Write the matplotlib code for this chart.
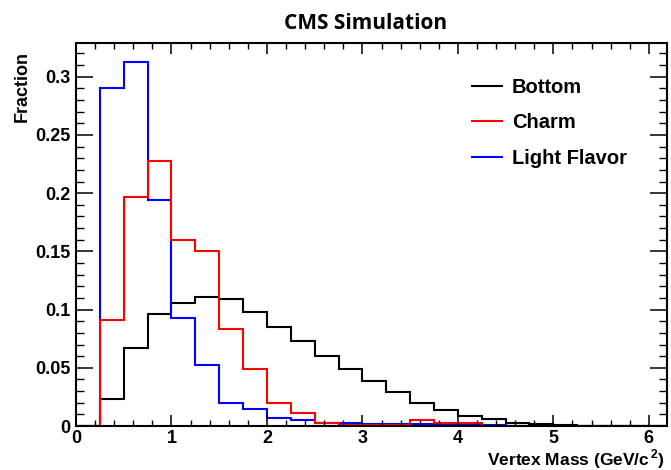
import numpy as np
import matplotlib
matplotlib.use("Agg")
import matplotlib.pyplot as plt
from matplotlib.lines import Line2D

# bin edges, 0.25 GeV wide
edges = np.arange(0, 6.26, 0.25)

bottom = [0.0, 0.023, 0.067, 0.096, 0.106, 0.111, 0.109, 0.098, 0.085, 0.073,
          0.060, 0.049, 0.039, 0.029, 0.020, 0.014, 0.009, 0.006, 0.003, 0.0017,
          0.0009, 0.0004, 0.0003, 0.0002, 0.0002]
charm = [0.0, 0.091, 0.197, 0.228, 0.160, 0.150, 0.083, 0.049, 0.020, 0.011,
         0.003, 0.0008, 0.0008, 0.0008, 0.005, 0.003, 0.003, 0.0004, 0.0003, 0.0002,
         0.0002, 0.0001, 0.0001, 0.0001, 0.0001]
light = [0.0, 0.290, 0.313, 0.194, 0.093, 0.052, 0.020, 0.015, 0.007, 0.0055,
         0.0025, 0.0022, 0.0019, 0.0016, 0.0014, 0.0012, 0.0010, 0.0006, 0.0004, 0.0003,
         0.0002, 0.0001, 0.0001, 0.0001, 0.0001]
labels = ['Bottom', 'Charm', 'Light Flavor']
colors = ['black', '#ff0000', '#0000ff']

plt.rcParams['font.family'] = ['Liberation Sans', 'DejaVu Sans']
plt.rcParams['font.weight'] = 'bold'
plt.rcParams['mathtext.fontset'] = 'custom'
plt.rcParams['mathtext.rm'] = 'Liberation Sans:bold'
plt.rcParams['mathtext.bf'] = 'Liberation Sans:bold'

fig = plt.figure(figsize=(6.71, 4.70), dpi=100)
ax = fig.add_axes([0.1133, 0.0936, 0.8807, 0.8149])

ax.stairs(bottom, edges, color='black', lw=1.5)
ax.stairs(light, edges, color='#0000ff', lw=1.5)
ax.stairs(charm, edges, color='#ff0000', lw=1.5)

ax.set_xlim(0, 6.19)
ax.set_ylim(0, 0.329)

ax.set_xticks(np.arange(0, 7, 1))
ax.set_xticks(np.arange(0, 6.2, 0.2), minor=True)
ax.set_yticks([0, 0.05, 0.1, 0.15, 0.2, 0.25, 0.3])
ax.set_yticklabels(['0', '0.05', '0.1', '0.15', '0.2', '0.25', '0.3'])
ax.set_yticks(np.arange(0, 0.33, 0.01), minor=True)

ax.tick_params(axis='x', which='major', direction='in', length=8, width=1.1,
               top=True, labelsize=13, pad=3)
ax.tick_params(axis='x', which='minor', direction='in', length=4, width=1.0, top=True)
ax.tick_params(axis='y', which='major', direction='in', length=12, width=1.1,
               right=True, labelsize=13, pad=4)
ax.tick_params(axis='y', which='minor', direction='in', length=6, width=1.0, right=True)
for s in ax.spines.values():
    s.set_linewidth(1.5)

ax.set_ylabel('Fraction', fontsize=13, fontweight='bold', loc='top')
ax.yaxis.set_label_coords(-0.077, 0.98)
ax.set_xlabel('Vertex Mass (GeV/c$^{\\,2}$)', fontsize=12.5, fontweight='bold', loc='right')
ax.xaxis.set_label_coords(0.997, -0.056)

fig.text(0.545, 0.938, 'CMS Simulation', ha='center', va='baseline',
         fontsize=15, fontweight='bold', family=['Open Sans', 'DejaVu Sans'])

hh = [Line2D([], [], color=c, lw=1.5) for c in colors]
ax.legend(hh, labels, frameon=False, fontsize=14.5,
          loc='upper left', bbox_to_anchor=(0.64, 0.955), handlelength=1.45,
          handletextpad=0.5, labelspacing=0.8)

fig.savefig('out.png', dpi=100)
